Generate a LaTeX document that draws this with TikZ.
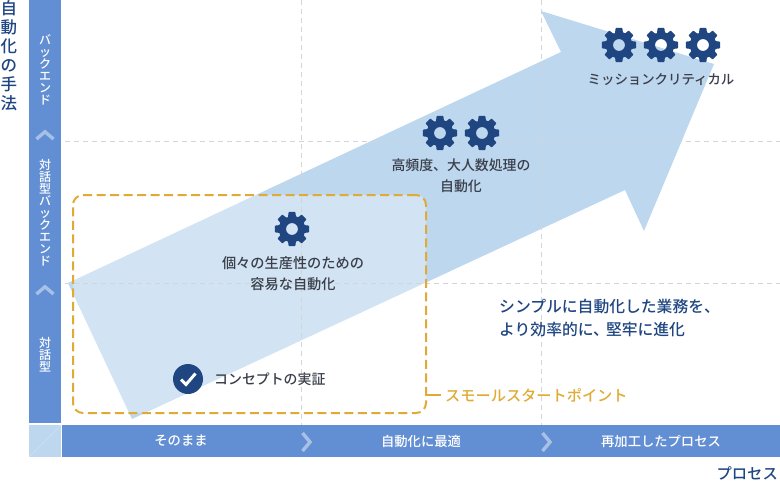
\documentclass[tikz,border=0pt]{standalone}
\usepackage{fontspec}
\setmainfont{Noto Sans CJK JP Medium}
\definecolor{arrowblue}{HTML}{BDD7EE}
\definecolor{barblue}{HTML}{628FD3}
\definecolor{chev}{HTML}{A6C0E8}
\definecolor{navy}{HTML}{1F4681}
\definecolor{inktxt}{HTML}{3A3F4A}
\definecolor{gold}{HTML}{E0AB35}
\definecolor{gridc}{HTML}{D2D4D8}
\newcommand{\fs}[1]{\fontsize{#1}{#1}\selectfont}
\newcommand{\gearat}[2]{%
  \fill[navy,draw=navy,line width=1.4pt,line join=round,even odd rule]
    ({#1+12.6*cos(90-22.5)},{#2-12.6*sin(90-22.5)})
    \foreach \a in {90,45,0,-45,-90,-135,-180,-225}{
      -- ({#1+12.6*cos(\a+15)},{#2-12.6*sin(\a+15)})
      -- ({#1+16.6*cos(\a+9.5)},{#2-16.6*sin(\a+9.5)})
      -- ({#1+16.6*cos(\a-9.5)},{#2-16.6*sin(\a-9.5)})
      -- ({#1+12.6*cos(\a-15)},{#2-12.6*sin(\a-15)})
    } -- cycle
    (#1+6.7,#2) arc[start angle=0,end angle=360,radius=6.7];
}
\tikzset{
  gridline/.style={gridc,line width=0.9pt,dash pattern=on 5pt off 4pt},
  chevron/.style={chev,line width=3.4pt,miter limit=10},
  vlabel/.style={white,font=\fs{12},align=center,inner sep=0pt},
  barlabel/.style={white,font=\fs{13.3},inner sep=0pt},
  inklabel/.style={inktxt,font=\fs{13.5},align=center,inner sep=0pt},
  navylabel/.style={navy,inner sep=0pt}
}
\begin{document}
\begin{tikzpicture}[x=1pt,y=-1pt]
\useasboundingbox (0,0) rectangle (780,480);
% arrow
\fill[arrowblue] (68,283) -- (561,52) -- (541,11) -- (714,64) -- (644,231) -- (625,190) -- (132,419) -- cycle;
% lightening inside the start box
\fill[white,opacity=.32,rounded corners=10pt] (73,195) rectangle (426,413);
% grid
\draw[gridline] (65,141) -- (780,141);
\draw[gridline] (65,283) -- (780,283);
\draw[gridline] (301,0) -- (301,425);
\draw[gridline] (541,0) -- (541,425);
% start box
\node[draw=gold,line width=2pt,dash pattern=on 9pt off 4.5pt,rounded corners=10pt,minimum width=353pt,minimum height=218pt,inner sep=0pt] (startbox) at (249.5,304) {};
\coordinate (startend) at (441,395);
\draw[gold,line width=2pt] (426,395) -- (startend);
\node[gold,font=\fs{15.2},anchor=west,inner sep=0pt] (startlabel) at (445,395) {スモールスタートポイント};
% bars
\node[fill=barblue,minimum width=32pt,minimum height=423pt,inner sep=0pt] (leftbar) at (45,211.5) {};
\node[fill=arrowblue,minimum width=32pt,minimum height=32pt,inner sep=0pt] (corner) at (45,441) {};
\draw[white,opacity=.25,line width=.6pt] (corner.south west) -- (corner.north east);
\node[fill=barblue,minimum width=718pt,minimum height=32pt,inner sep=0pt] (bottombar) at (421,441) {};
% chevrons
\draw[chevron] (36.5,139) -- (45,131.8) -- (53.5,139);
\draw[chevron] (36.5,294) -- (45,286.8) -- (53.5,294);
\draw[chevron] (302.5,433) -- (310,442) -- (302.5,451);
\draw[chevron] (542.5,433) -- (550,442) -- (542.5,451);
% vertical labels
\node[vlabel] (vback) at (45,70) {バ\\ッ\\ク\\エ\\ン\\ド};
\node[vlabel] (vdialog) at (45,212.5) {対\\話\\型\\バ\\ッ\\ク\\エ\\ン\\ド};
\node[vlabel] (vtype) at (45,355) {対\\話\\型};
\node[navylabel,font=\fontsize{16.5}{19}\selectfont,align=center] (yaxis) at (9,56) {自\\動\\化\\の\\手\\法};
% bottom labels
\node[barlabel] (p1) at (181,441) {そのまま};
\node[barlabel] (p2) at (421,441) {自動化に最適};
\node[barlabel] (p3) at (661,441) {再加工したプロセス};
\node[navylabel,font=\fs{15.3},anchor=east] (xaxis) at (778,473) {プロセス};
% gears
\gearat{292}{229}
\gearat{440}{133}
\gearat{482}{133}
\gearat{619}{45}
\gearat{661}{45}
\gearat{703}{45}
% labels
\node[inklabel,font=\fontsize{14.2}{21}\selectfont] (small) at (293,274) {個々の生産性のための\\容易な自動化};
\node[inklabel,font=\fontsize{13.9}{21}\selectfont] (mid) at (461,176) {高頻度、大人数処理の\\自動化};
\node[inklabel,font=\fs{13.4}] (mission) at (661,79.5) {ミッションクリティカル};
\node[inklabel,font=\fs{13.9},anchor=west] (concept) at (214,379.5) {コンセプトの実証};
\node[navylabel,font=\fontsize{15.8}{23}\selectfont,align=left,anchor=north west] (desc) at (499,298.5) {シンプルに自動化した業務を、\\より効率的に、\kern-3pt 堅牢に進化};
% check badge
\node[circle,fill=navy,minimum size=30pt,inner sep=0pt] (badge) at (188,379) {};
\draw[white,line width=3pt] (181,379.5) -- (186,384.5) -- (195.5,373.5);
\end{tikzpicture}
\end{document}
